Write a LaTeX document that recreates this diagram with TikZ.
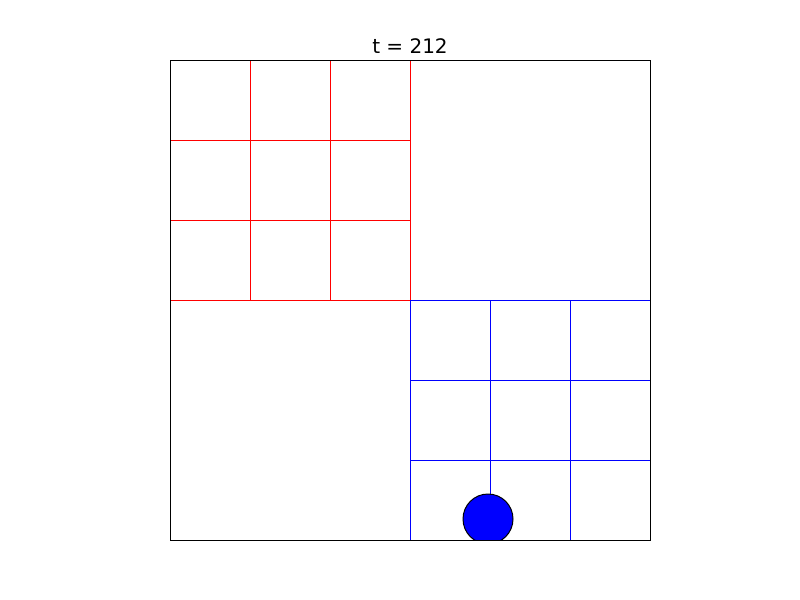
\documentclass[tikz,border=0pt]{standalone}
\usepackage{fontspec}
\setmainfont{DejaVu Sans}
\tikzset{
  redgrid/.style={draw=red, line width=0.75pt},
  bluegrid/.style={draw=blue, line width=0.75pt},
  frame/.style={draw=black, line width=0.75pt},
  ball/.style={draw=black, fill=blue, line width=0.75pt},
  title/.style={font=\fontsize{15}{18}\selectfont, anchor=base, inner sep=0pt}
}
\begin{document}
\begin{tikzpicture}[x=0.75pt, y=-0.75pt]
\useasboundingbox (0,0) rectangle (800,600);
\begin{scope}
\clip (170,60) rectangle (650,540);
\foreach \i in {250,330} \draw[redgrid] (\i,60) -- (\i,300);
\foreach \j in {140,220} \draw[redgrid] (170,\j) -- (410,\j);
\draw[redgrid] (170,300) -- (410,300) -- (410,60);
\foreach \i in {490,570} \draw[bluegrid] (\i,300) -- (\i,540);
\foreach \j in {380,460} \draw[bluegrid] (410,\j) -- (650,\j);
\draw[bluegrid] (410,540) -- (410,300) -- (650,300);
\node[ball, circle, minimum size=37.5pt, inner sep=0pt] (b) at (488,519) {};
\end{scope}
\draw[frame] (170,60) rectangle (650,540);
\node[title] (t) at (410,53) {t = 212};
\end{tikzpicture}
\end{document}
